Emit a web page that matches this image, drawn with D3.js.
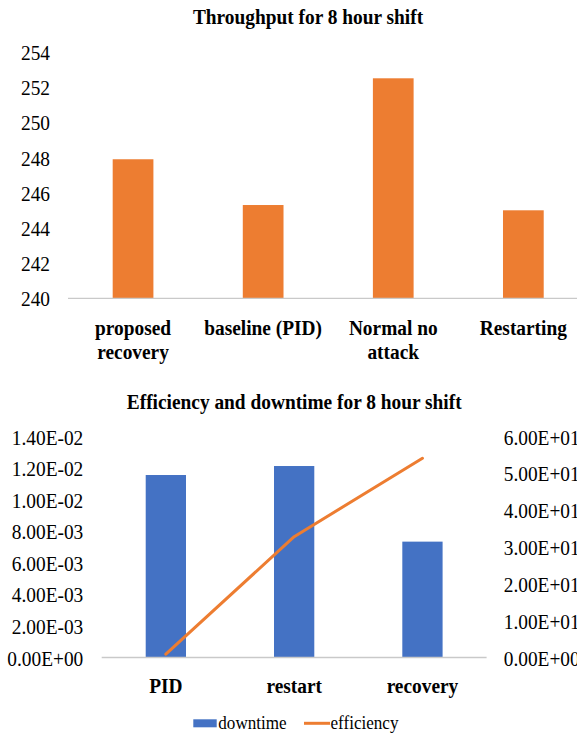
<!DOCTYPE html>
<html>
<head>
<meta charset="utf-8">
<script src="https://cdn.jsdelivr.net/npm/d3@7"></script>
<style>
  html, body { margin: 0; padding: 0; background: #fff; }
  svg { display: block; overflow: hidden; }
  text { font-family: "Liberation Serif", "Times New Roman", serif; fill: #000; }
</style>
</head>
<body>
<svg id="chart" width="577" height="736"></svg>
<script>
// ---- Throughput chart data ----
const throughputCategories = ["proposed\nrecovery", "baseline (PID)", "Normal no\nattack", "Restarting"];
const throughputValues = [247.9, 245.3, 252.5, 245.0];
const throughputTicks = [240, 242, 244, 246, 248, 250, 252, 254];

// ---- Efficiency / downtime chart data ----
const methodCategories = ["PID", "restart", "recovery"];
const downtimeValues = [0.01156, 0.01213, 0.00734];
const efficiencyValues = [0.9, 32.8, 54.1];
const downtimeTicks = [0, 0.002, 0.004, 0.006, 0.008, 0.010, 0.012, 0.014];
const efficiencyTicks = [0, 10, 20, 30, 40, 50, 60];
const legendLabels = ["downtime", "efficiency"];

const ORANGE = "#ED7D31";
const BLUE = "#4472C4";
const AXIS_GREY = "#C9C9C9";
const SX = 0.88;          // horizontal squeeze applied to the tall serif text
const FS = 22;

const svg = d3.select("#chart");

function sciFormat(v) {
  const [m, e] = v.toExponential(2).split("e");
  const sign = e[0] === "-" ? "-" : "+";
  return m + "E" + sign + String(Math.abs(+e)).padStart(2, "0");
}

// Restyle axis tick text: squeezed serif, vertically centred on the tick.
function styleTicks(g, anchor, offsetX) {
  g.select(".domain").remove();
  g.selectAll(".tick line").remove();
  g.selectAll(".tick text")
    .attr("x", 0).attr("y", 0).attr("dy", null)
    .attr("text-anchor", anchor)
    .attr("font-size", FS)
    .attr("font-family", "Liberation Serif, Times New Roman, serif")
    .attr("fill", "#000")
    .attr("transform", `translate(${offsetX},7.5) scale(${SX},1)`);
}

function title(textStr, cx, baseline) {
  svg.append("text")
    .attr("transform", `translate(${cx},${baseline}) scale(${SX},1)`)
    .attr("text-anchor", "middle")
    .attr("font-weight", "bold")
    .attr("font-size", FS)
    .text(textStr);
}

// ================= Chart 1: Throughput =================
{
  const x = d3.scaleBand()
    .domain(throughputCategories)
    .range([68, 588.4])
    .paddingInner(0.687)
    .paddingOuter(0.687 / 2);
  const y = d3.scaleLinear().domain([240, 254]).range([298.3, 51.9]);

  title("Throughput for 8 hour shift", 308, 24);

  svg.append("g").selectAll("rect")
    .data(throughputValues)
    .join("rect")
    .attr("x", (d, i) => x(throughputCategories[i]))
    .attr("width", x.bandwidth())
    .attr("y", d => y(d))
    .attr("height", d => y(240) - y(d))
    .attr("fill", ORANGE);

  svg.append("g")
    .attr("transform", "translate(50,0)")
    .call(d3.axisLeft(y).tickValues(throughputTicks).tickFormat(d3.format("d")).tickSize(0))
    .call(g => styleTicks(g, "end", 0));

  svg.append("line")
    .attr("x1", x.range()[0]).attr("x2", x.range()[1])
    .attr("y1", y(240)).attr("y2", y(240))
    .attr("stroke", AXIS_GREY).attr("stroke-width", 1.3);

  const labels = svg.append("g").selectAll("text")
    .data(throughputCategories)
    .join("text")
    .attr("text-anchor", "middle")
    .attr("font-weight", "bold")
    .attr("font-size", FS)
    .attr("transform", d => `translate(${x(d) + x.bandwidth() / 2},334.5) scale(${SX},1)`);
  labels.selectAll("tspan")
    .data(d => d.split("\n"))
    .join("tspan")
    .attr("x", 0)
    .attr("y", (d, i) => i * 24.5)
    .text(d => d);
}

// ================= Chart 2: Efficiency and downtime =================
{
  const x = d3.scaleBand()
    .domain(methodCategories)
    .range([101.7, 486.6])
    .paddingInner(0.686)
    .paddingOuter(0.686 / 2);
  const yL = d3.scaleLinear().domain([0, 0.014]).range([657.5, 436.5]);
  const yR = d3.scaleLinear().domain([0, 60]).range([657.5, 436.5]);

  title("Efficiency and downtime for 8 hour shift", 294.2, 409.3);

  svg.append("g").selectAll("rect")
    .data(downtimeValues)
    .join("rect")
    .attr("x", (d, i) => x(methodCategories[i]))
    .attr("width", x.bandwidth())
    .attr("y", d => yL(d))
    .attr("height", d => yL(0) - yL(d))
    .attr("fill", BLUE);

  svg.append("line")
    .attr("x1", x.range()[0]).attr("x2", x.range()[1])
    .attr("y1", yL(0)).attr("y2", yL(0))
    .attr("stroke", AXIS_GREY).attr("stroke-width", 1.3);

  const line = d3.line()
    .x((d, i) => x(methodCategories[i]) + x.bandwidth() / 2)
    .y(d => yR(d));
  svg.append("path")
    .datum(efficiencyValues)
    .attr("d", line)
    .attr("fill", "none")
    .attr("stroke", ORANGE)
    .attr("stroke-width", 3)
    .attr("stroke-linecap", "round")
    .attr("stroke-linejoin", "round");

  svg.append("g")
    .attr("transform", "translate(83.3,0)")
    .call(d3.axisLeft(yL).tickValues(downtimeTicks).tickFormat(sciFormat).tickSize(0))
    .call(g => styleTicks(g, "end", 0));

  svg.append("g")
    .attr("transform", "translate(503.7,0)")
    .call(d3.axisRight(yR).tickValues(efficiencyTicks).tickFormat(sciFormat).tickSize(0))
    .call(g => styleTicks(g, "start", 0));

  svg.append("g").selectAll("text")
    .data(methodCategories)
    .join("text")
    .attr("text-anchor", "middle")
    .attr("font-weight", "bold")
    .attr("font-size", FS)
    .attr("transform", d => `translate(${x(d) + x.bandwidth() / 2},693) scale(${SX},1)`)
    .text(d => d);

  // Legend
  const lg = svg.append("g");
  lg.append("rect")
    .attr("x", 193.3).attr("y", 719.3).attr("width", 23.4).attr("height", 8)
    .attr("fill", BLUE);
  lg.append("text")
    .attr("transform", "translate(218.3,728.5) scale(0.95,1)")
    .attr("font-size", 18)
    .text(legendLabels[0]);
  lg.append("line")
    .attr("x1", 304).attr("x2", 330).attr("y1", 723.3).attr("y2", 723.3)
    .attr("stroke", ORANGE).attr("stroke-width", 3);
  lg.append("text")
    .attr("transform", "translate(330.5,728.5) scale(0.95,1)")
    .attr("font-size", 18)
    .text(legendLabels[1]);
}
</script>
</body>
</html>
